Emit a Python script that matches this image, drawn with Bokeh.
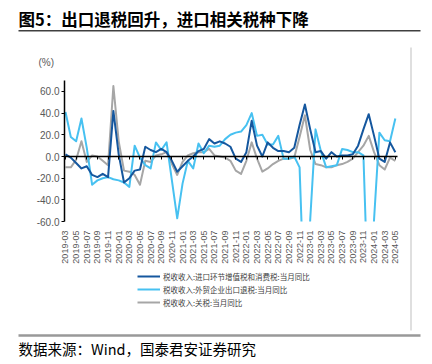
import math
from bokeh.plotting import figure
from bokeh.models import (ColumnDataSource, FixedTicker, PrintfTickFormatter, Label,
                          BoxAnnotation, Legend, LegendItem, Range1d, LinearAxis)
from bokeh.embed import file_html
from bokeh.resources import INLINE

# ---- data ----
months = [f"{y}-{m:02d}" for y in range(2019, 2025) for m in range(1, 13)][2:65]  # 2019-03 .. 2024-05

vat_consumption = [2, -1, -6, -11, -9, -17, -19, -16, -19, 42,
                   2, -24, -20, -13, -12, 9, 6, 4, 7, 4,
                   -4, -14, -9, -4, 0, 5, 7, 16, 12, 14,
                   12, 9, -2, -5, 4, 33, 10, 0, 13, 8,
                   5, 5, 4, 8, 29, 48, 25, 4, 5, -2,
                   4, 0, 1, 1, 2, 10, 25, 39, 19, -2,
                   -5, 13, 4]

export_rebate = [41, 18, 14, 35, 8, -26, -22, -20, -19, -21,
                 -22, -24, -28, 10, -1, -8, -11, 13, 6, 13,
                 -22, -57, -25, -4, -11, 12, 3, 10, 9, 10,
                 16, 20, 22, 23, 29, 40, 19, 20, 11, 11,
                 19, -2, -2, 0, -10, -150, -58, 25, 5, -10,
                 -9, -8, 7, 6, 4, 4, 1, -150, -58, 22,
                 15, 14, 35]

tariff = [-10, -10, -3, 14, -5, 1, 0, -4, -8, 65,
          14, -13, -14, -17, -26, -4, -5, 1, 2, 4,
          -7, -17, -5, 1, 3, 4, 4, 7, 1, 0,
          -1, -4, -13, -16, -4, 13, -2, -14, -11, -7,
          -4, -2, -2, -1, 18, 38, 6, -7, -8, -10,
          -10, -8, -7, -5, -2, 4, 10, 19, 4, -8,
          -12, -1, -4]

series_names = ["税收收入:进口环节增值税和消费税:当月同比",
                "税收收入:外贸企业出口退税:当月同比",
                "税收收入:关税:当月同比"]
y_ticks = [-60, -40, -20, 0, 20, 40, 60]
y_min, y_max = -60, 70

title_text = "图5：出口退税回升，进口相关税种下降"
source_text = "数据来源：Wind，国泰君安证券研究"
unit_text = "(%)"

DARK = "#15579E"
LIGHT = "#47C1F1"
GRAY = "#A6A6A6"
CJK = "Noto Sans CJK SC"

W, H = 428, 360
# pixel geometry of the plotting area
PX0, PX_PER_MONTH = 65.0, 5.32     # x pixel of first month, pixels per month
PY0, PY_PER_UNIT = 156.0, 1.085    # y pixel of value 0, pixels per percentage point

x = list(range(len(months)))
tick_idx = x[::2]
n_last = len(months) - 1

src = ColumnDataSource(dict(x=x, vat=vat_consumption, rebate=export_rebate, tariff=tariff))

x_start = (0 - PX0) / PX_PER_MONTH
x_end = (W - PX0) / PX_PER_MONTH
y_top = PY0 / PY_PER_UNIT
y_bottom = (PY0 - H) / PY_PER_UNIT
axis_x = (64 - PX0) / PX_PER_MONTH
zero_end = n_last + 0.4

p = figure(width=W, height=H, output_backend="svg", toolbar_location=None,
           x_range=Range1d(x_start, x_end), y_range=Range1d(y_bottom, y_top),
           x_axis_location=None, y_axis_location=None,
           min_border=0, min_border_left=0, min_border_right=0, min_border_top=0, min_border_bottom=0)
p.outline_line_color = None
p.grid.visible = False
p.background_fill_color = "white"
p.border_fill_color = "white"

# series
r_gray = p.line("x", "tariff", source=src, line_color=GRAY, line_width=2, line_join="round")
r_light = p.line("x", "rebate", source=src, line_color=LIGHT, line_width=2, line_join="round")
r_dark = p.line("x", "vat", source=src, line_color=DARK, line_width=2, line_join="round")
# white mask: values below the axis minimum are cut off like in the reference
p.quad(left=[x_start], right=[x_end], top=[y_min], bottom=[y_bottom],
       fill_color="white", line_color=None)

# y axis
yax = LinearAxis(fixed_location=axis_x, bounds=(y_min, y_max))
yax.ticker = FixedTicker(ticks=y_ticks)
yax.formatter = PrintfTickFormatter(format="%.1f")
yax.axis_line_color = "black"
yax.axis_line_width = 1.5
yax.major_tick_line_color = "black"
yax.major_tick_out = 3
yax.major_tick_in = 0
yax.minor_tick_line_color = None
yax.major_label_text_color = "#595959"
yax.major_label_text_font = "Liberation Sans"
yax.major_label_text_font_size = "10px"
yax.major_label_standoff = 2
p.add_layout(yax, "left")

# x labels at the bottom of the plot area
xlab = LinearAxis(fixed_location=y_min)
xlab.ticker = FixedTicker(ticks=tick_idx)
xlab.major_label_overrides = {i: months[i] for i in tick_idx}
xlab.major_label_orientation = math.pi / 2
xlab.axis_line_color = None
xlab.major_tick_line_color = None
xlab.minor_tick_line_color = None
xlab.major_label_text_color = "#595959"
xlab.major_label_text_font = "Liberation Sans"
xlab.major_label_text_font_size = "9px"
xlab.major_label_standoff = 3
p.add_layout(xlab, "below")

# zero line with tick marks
zax = LinearAxis(fixed_location=0, bounds=(axis_x, zero_end))
zax.ticker = FixedTicker(ticks=tick_idx)
zax.major_label_overrides = {i: "" for i in tick_idx}
zax.major_label_text_font_size = "0px"
zax.axis_line_color = "black"
zax.axis_line_width = 1.5
zax.major_tick_line_color = "black"
zax.major_tick_out = 3
zax.major_tick_in = 0
zax.minor_tick_line_color = None
p.add_layout(zax, "below")

legend = Legend(items=[LegendItem(label=series_names[0], renderers=[r_dark]),
                       LegendItem(label=series_names[1], renderers=[r_light]),
                       LegendItem(label=series_names[2], renderers=[r_gray])],
                location=(137, H - 308), orientation="vertical",
                label_text_font=CJK, label_text_font_size="7.5px", label_text_color="#404040",
                glyph_width=23, glyph_height=12, label_height=12, spacing=1,
                padding=0, margin=0, label_standoff=3,
                border_line_color=None, background_fill_alpha=0)
p.add_layout(legend, "center")

# texts (screen units, measured from the bottom-left of the canvas)
p.add_layout(Label(x=18, y=H - 18, x_units="screen", y_units="screen", text=title_text,
                   text_font=CJK, text_font_style="bold", text_font_size="16.5px",
                   text_color="black", text_baseline="middle"))
p.add_layout(Label(x=38, y=H - 62, x_units="screen", y_units="screen", text=unit_text,
                   text_font="Liberation Sans", text_font_size="10px",
                   text_color="#595959", text_baseline="middle"))
p.add_layout(Label(x=18, y=H - 348, x_units="screen", y_units="screen", text=source_text,
                   text_font=CJK, text_font_size="14.5px",
                   text_color="black", text_baseline="middle"))

# decorative rules
def rule(left, right, top, bottom, color):
    p.add_layout(BoxAnnotation(left=left, right=right, top=H - top, bottom=H - bottom,
                               left_units="screen", right_units="screen",
                               top_units="screen", bottom_units="screen",
                               fill_color=color, fill_alpha=1, line_color=None))

rule(18, 420, 29.5, 31, "#404040")     # under the title
rule(410, 411, 47, 330, "#BFBFBF")     # right frame line
rule(18, 420, 333.8, 336.3, "#999999")  # above the source line

open("out.html", "w").write(file_html(p, INLINE))
